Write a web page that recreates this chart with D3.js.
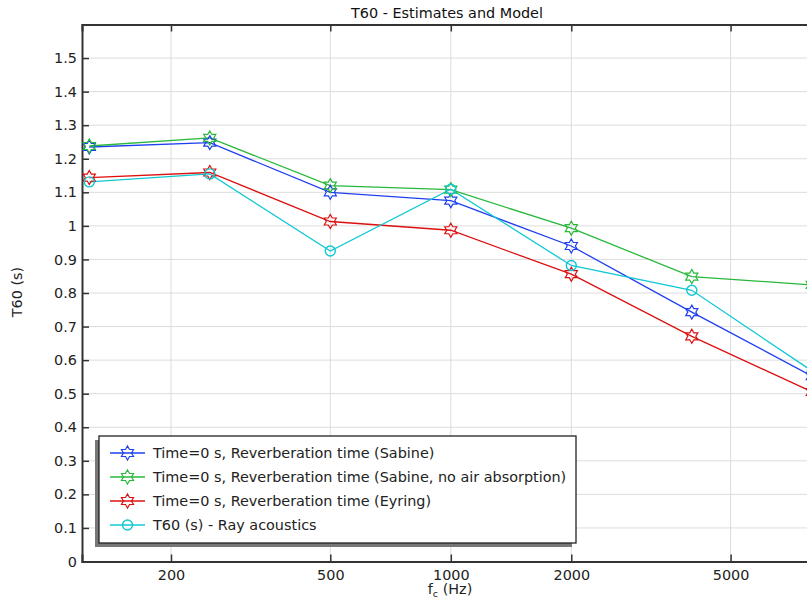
<!DOCTYPE html>
<html>
<head>
<meta charset="utf-8">
<script src="https://cdn.jsdelivr.net/npm/d3@7"></script>
<style>
  body { margin: 0; background: #fff; }
  svg { font-family: "DejaVu Sans", sans-serif; }
</style>
</head>
<body>
<svg id="chart" width="807" height="600"></svg>
<script>
// octave band centre frequencies (Hz)
var freqs = [125, 250, 500, 1000, 2000, 4000, 8000];

// T60 values (s)
var sabine      = [1.235, 1.248, 1.100, 1.075, 0.940, 0.743, 0.552];
var sabineNoAir = [1.238, 1.262, 1.120, 1.108, 0.993, 0.849, 0.824];
var eyring      = [1.144, 1.159, 1.013, 0.987, 0.856, 0.671, 0.505];
var rayAcoustic = [1.131, 1.155, 0.925, 1.109, 0.882, 0.808, 0.567];

var seriesNames = [
  "Time=0 s, Reverberation time (Sabine)",
  "Time=0 s, Reverberation time (Sabine, no air absorption)",
  "Time=0 s, Reverberation time (Eyring)",
  "T60 (s) - Ray acoustics"
];
var xTicks = [200, 500, 1000, 2000, 5000];
var yTicks = [0, 0.1, 0.2, 0.3, 0.4, 0.5, 0.6, 0.7, 0.8, 0.9, 1, 1.1, 1.2, 1.3, 1.4, 1.5];

(function() {
  var series = [
    { name: seriesNames[0], values: sabine,      color: "#2040f0", marker: "star" },
    { name: seriesNames[1], values: sabineNoAir, color: "#28b83a", marker: "star" },
    { name: seriesNames[2], values: eyring,      color: "#dc1010", marker: "star" },
    { name: seriesNames[3], values: rayAcoustic, color: "#10c8d4", marker: "circle" }
  ];
  var fs = "14.4px";

  var svg = d3.select("#chart");
  var pLeft = 82, pTop = 24.5, pBottom = 561.5;

  // one octave is ~120.5px; 125 Hz sits at x=89.3
  var octave = 120.5;
  var x = d3.scaleLog()
    .domain([125, 8000])
    .range([89.3, 89.3 + 6 * octave]);
  var pRight = x.range()[1] + 7;
  x.domain([x.invert(pLeft), x.invert(pRight)]).range([pLeft, pRight]);

  var y = d3.scaleLinear().domain([0, 1.6]).range([pBottom, pTop]);

  // grid
  var grid = svg.append("g");
  grid.selectAll("line.gy").data(yTicks.slice(1)).enter().append("line")
    .attr("x1", pLeft).attr("x2", pRight)
    .attr("y1", function(d) { return y(d); }).attr("y2", function(d) { return y(d); })
    .attr("stroke", "#dcdcdc").attr("stroke-width", 1);
  grid.selectAll("line.gx").data(xTicks).enter().append("line")
    .attr("x1", function(d) { return x(d); }).attr("x2", function(d) { return x(d); })
    .attr("y1", pTop).attr("y2", pBottom)
    .attr("stroke", "#dcdcdc").attr("stroke-width", 1);

  // axes
  var yAxis = d3.axisLeft(y).tickValues(yTicks).tickSize(-7).tickPadding(5)
    .tickFormat(function(d) { return String(d); });
  var gy = svg.append("g").attr("transform", "translate(" + pLeft + ",0)").call(yAxis);

  var xAxis = d3.axisBottom(x).tickValues(xTicks).tickSize(-7).tickPadding(8)
    .tickFormat(d3.format("d"));
  var gx = svg.append("g").attr("transform", "translate(0," + pBottom + ")").call(xAxis);

  var xTop = d3.axisTop(x).tickValues(xTicks).tickSize(-7).tickFormat("");
  var gt = svg.append("g").attr("transform", "translate(0," + pTop + ")").call(xTop);

  [gx, gy, gt].forEach(function(g) {
    g.selectAll("path.domain").attr("stroke", "#333").attr("stroke-width", 2);
    g.selectAll(".tick line").attr("stroke", "#333").attr("stroke-width", 1.5);
    g.selectAll(".tick text").attr("fill", "#222").style("font-size", fs)
      .style("font-family", "DejaVu Sans, sans-serif");
  });

  // markers
  function starPath(R) {
    var r = R / Math.sqrt(3), p = [];
    for (var i = 0; i < 12; i++) {
      var a = -Math.PI / 2 + i * Math.PI / 6;
      var rr = i % 2 === 0 ? R : r;
      p.push([rr * Math.cos(a), rr * Math.sin(a)]);
    }
    return "M" + p.map(function(q) { return q[0].toFixed(2) + "," + q[1].toFixed(2); }).join("L") + "Z";
  }
  var star = starPath(7);

  function drawMarker(g, s, cx, cy) {
    if (s.marker === "circle") {
      g.append("circle").attr("cx", cx).attr("cy", cy).attr("r", 5)
        .attr("fill", "none").attr("stroke", s.color).attr("stroke-width", 1.4);
    } else {
      g.append("path").attr("d", star).attr("transform", "translate(" + cx + "," + cy + ")")
        .attr("fill", "none").attr("stroke", s.color).attr("stroke-width", 1.2);
    }
  }

  svg.append("clipPath").attr("id", "clip").append("rect")
    .attr("x", pLeft).attr("y", pTop).attr("width", 807 - pLeft).attr("height", pBottom - pTop + 8);

  var plot = svg.append("g").attr("clip-path", "url(#clip)");
  var line = d3.line()
    .x(function(d, i) { return x(freqs[i]); })
    .y(function(d) { return y(d); });

  series.forEach(function(s) {
    plot.append("path").datum(s.values).attr("d", line)
      .attr("fill", "none").attr("stroke", s.color).attr("stroke-width", 1.3);
  });
  series.forEach(function(s) {
    s.values.forEach(function(v, i) { drawMarker(plot, s, x(freqs[i]), y(v)); });
  });

  // title and axis labels
  svg.append("text").attr("x", 447).attr("y", 18).attr("text-anchor", "middle")
    .style("font-size", fs).attr("fill", "#111").text("T60 - Estimates and Model");

  svg.append("text").attr("transform", "translate(22,292) rotate(-90)")
    .attr("text-anchor", "middle").style("font-size", fs).attr("fill", "#222")
    .text("T60 (s)");

  var xl = svg.append("text").attr("x", 450).attr("y", 594).attr("text-anchor", "middle")
    .style("font-size", fs).attr("fill", "#222");
  xl.append("tspan").text("f");
  xl.append("tspan").attr("dy", 3).style("font-size", "9.5px").text("c");
  xl.append("tspan").attr("dy", -3).text(" (Hz)");

  // legend
  var lg = svg.append("g");
  var lx = 99, ly = 436, lw = 477, lh = 107;
  lg.append("rect").attr("x", lx - 4).attr("y", ly + 4).attr("width", lw).attr("height", lh)
    .attr("fill", "#777");
  lg.append("rect").attr("x", lx).attr("y", ly).attr("width", lw).attr("height", lh)
    .attr("fill", "#fff").attr("stroke", "#222").attr("stroke-width", 1.3);
  series.forEach(function(s, i) {
    var yy = ly + 17 + i * 24;
    lg.append("line").attr("x1", lx + 11).attr("x2", lx + 46).attr("y1", yy).attr("y2", yy)
      .attr("stroke", s.color).attr("stroke-width", 1.3);
    drawMarker(lg, s, lx + 28.5, yy);
    lg.append("text").attr("x", lx + 54).attr("y", yy + 5).style("font-size", fs)
      .attr("fill", "#222").text(s.name);
  });
})();
</script>
</body>
</html>
